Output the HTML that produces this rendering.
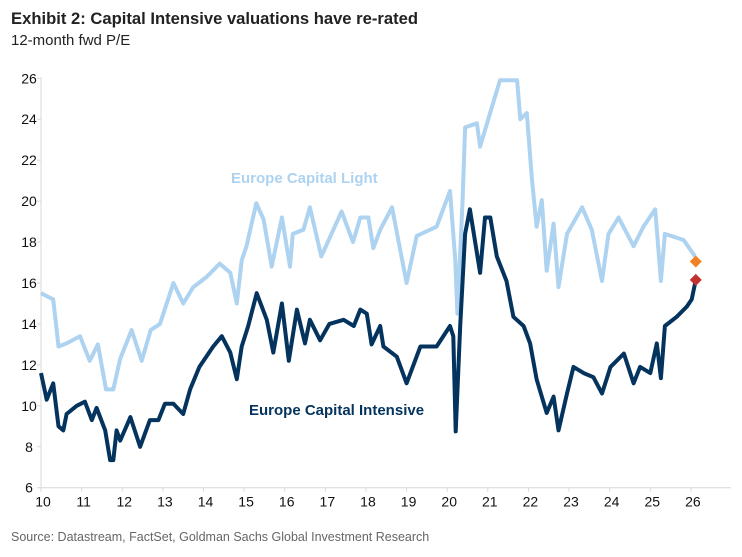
<!DOCTYPE html>
<html><head><meta charset="utf-8"><style>
body{margin:0;background:#fff;width:742px;height:552px;overflow:hidden;font-family:"Liberation Sans",sans-serif}
</style></head><body>
<svg width="742" height="552" xmlns="http://www.w3.org/2000/svg">
<text x="11" y="24" font-size="16.5" font-weight="bold" fill="#222" textLength="407" lengthAdjust="spacingAndGlyphs">Exhibit 2: Capital Intensive valuations have re-rated</text>
<text x="11" y="45" font-size="15" fill="#222">12-month fwd P/E</text>
<g id="axes"></g>
<g id="series"></g>
<text x="231" y="183" font-size="15" font-weight="bold" fill="#aed3f0">Europe Capital Light</text>
<text x="249" y="415" font-size="15" font-weight="bold" fill="#04335e">Europe Capital Intensive</text>
<text x="11" y="541" font-size="12.5" fill="#666">Source: Datastream, FactSet, Goldman Sachs Global Investment Research</text>
</svg>
<script>
const yTicks=[6,8,10,12,14,16,18,20,22,24,26];
const xTicks=[10,11,12,13,14,15,16,17,18,19,20,21,22,23,24,25,26];
const lightYears=[10.0,10.3,10.43,10.63,10.96,11.2,11.4,11.6,11.78,11.95,12.23,12.48,12.7,12.93,13.26,13.5,13.75,14.08,14.4,14.66,14.82,14.94,15.06,15.3,15.48,15.68,15.93,16.13,16.2,16.46,16.62,16.9,17.4,17.68,17.86,18.06,18.18,18.35,18.64,19.0,19.25,19.74,20.07,20.2,20.25,20.38,20.44,20.73,20.81,21.1,21.3,21.72,21.8,21.96,22.08,22.2,22.33,22.45,22.62,22.74,22.95,23.32,23.56,23.81,23.97,24.22,24.59,24.83,25.12,25.26,25.36,25.82,26.1];
const lightValues=[15.5,15.2,12.9,13.05,13.4,12.2,13.0,10.8,10.8,12.3,13.7,12.2,13.7,14.0,16.0,15.0,15.8,16.3,16.95,16.5,15.0,17.1,17.8,19.9,19.1,16.8,19.2,16.8,18.4,18.6,19.7,17.3,19.5,18.0,19.2,19.2,17.7,18.6,19.7,16.0,18.3,18.75,20.5,17.1,14.5,20.05,23.6,23.8,22.66,24.6,25.9,25.9,24.0,24.3,21.2,18.75,20.05,16.6,18.9,15.8,18.4,19.7,18.6,16.1,18.4,19.2,17.8,18.75,19.6,16.1,18.4,18.1,17.3];
const intYears=[10.0,10.14,10.3,10.43,10.55,10.63,10.88,11.08,11.25,11.37,11.58,11.7,11.78,11.86,11.95,12.2,12.44,12.68,12.89,13.05,13.26,13.5,13.67,13.9,14.24,14.45,14.66,14.82,14.94,15.1,15.31,15.56,15.72,15.93,16.1,16.3,16.5,16.62,16.87,17.1,17.45,17.7,17.86,18.02,18.14,18.35,18.43,18.76,19.0,19.34,19.74,20.07,20.15,20.21,20.32,20.44,20.56,20.81,20.93,21.06,21.22,21.46,21.63,21.88,22.04,22.2,22.45,22.62,22.74,22.95,23.11,23.36,23.6,23.81,24.02,24.35,24.59,24.75,25.0,25.16,25.26,25.36,25.65,25.9,26.02,26.12];
const intValues=[11.6,10.3,11.1,9.0,8.8,9.6,10.0,10.2,9.3,9.9,8.8,7.35,7.35,8.8,8.3,9.45,8.0,9.3,9.3,10.1,10.1,9.6,10.8,11.9,12.9,13.4,12.6,11.3,12.9,13.9,15.5,14.2,12.6,15.0,12.2,14.7,13.05,14.2,13.2,14.0,14.2,13.9,14.7,14.5,13.0,13.9,12.9,12.4,11.1,12.9,12.9,13.9,13.4,8.75,13.9,18.4,19.6,16.5,19.2,19.2,17.3,16.1,14.35,13.9,13.05,11.3,9.65,10.45,8.8,10.6,11.9,11.6,11.4,10.6,11.9,12.55,11.1,11.9,11.6,13.05,11.35,13.9,14.35,14.85,15.2,16.15];
const lastLight={year:26.12,value:17.05};
const lastInt={year:26.12,value:16.15};

const X0=41,XPY=40.62,Y26=78.3,YPU=20.47;
const sx=y=>X0+(y-10)*XPY;
const sy=v=>Y26+(26-v)*YPU;
const NS="http://www.w3.org/2000/svg";
const ax=document.getElementById('axes'),se=document.getElementById('series');
function mk(tag,attrs,parent){const e=document.createElementNS(NS,tag);for(const k in attrs)e.setAttribute(k,attrs[k]);parent.appendChild(e);return e;}
let l=mk('line',{x1:X0,y1:sy(26)-1,x2:X0,y2:sy(6),stroke:'#d9d9d9','stroke-width':1},ax);


l=mk('line',{x1:X0,y1:sy(6),x2:731,y2:sy(6),stroke:'#d9d9d9','stroke-width':1},ax);


yTicks.forEach(v=>{
  const t=mk('line',{x1:X0-4,y1:sy(v),x2:X0,y2:sy(v),stroke:'#d9d9d9'},ax);
  
  
  const tx=mk('text',{x:29,y:sy(v)+5,'font-size':14,'text-anchor':'middle',fill:'#111'},ax);
  tx.textContent=v;
  
  
});
xTicks.forEach(v=>{
  const t=mk('line',{x1:sx(v),y1:sy(6),x2:sx(v),y2:sy(6)+4,stroke:'#d9d9d9'},ax);
  
  
  const tx=mk('text',{x:sx(v)+2,y:sy(6)+19,'font-size':14,'text-anchor':'middle',fill:'#111'},ax);
  tx.textContent=v;
  
  
});
function path(years,vals,color,name){
  const d=years.map((y,i)=>(i?'L':'M')+sx(y).toFixed(1)+','+sy(vals[i]).toFixed(1)).join('');
  const p=mk('path',{d:d,fill:'none',stroke:color,'stroke-width':4,'stroke-linejoin':'round'},se);
  
  
}
path(lightYears,lightValues,'#aed3f0','line-capital-light');
path(intYears,intValues,'#04335e','line-capital-intensive');
function diamond(pt,color,name){
  const cx=sx(pt.year),cy=sy(pt.value),r=6;
  const p=mk('polygon',{points:`${cx},${cy-r} ${cx+r},${cy} ${cx},${cy+r} ${cx-r},${cy}`,fill:color},se);
  
  
}
diamond(lastLight,'#f08125','marker-latest-capital-light');
diamond(lastInt,'#c0312f','marker-latest-capital-intensive');
</script>
</body></html>
